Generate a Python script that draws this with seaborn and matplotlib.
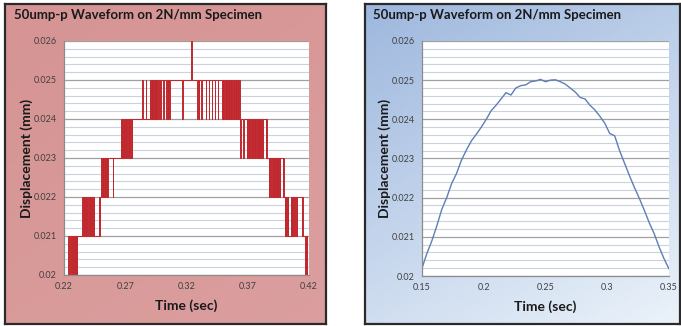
import numpy as np
import pandas as pd
import seaborn as sns
import matplotlib.pyplot as plt
from matplotlib.ticker import MultipleLocator, FixedLocator, FuncFormatter

# ---- left panel: quantised displacement (toggle times between two levels) ----
start_t, start_d, end_t = 0.22, 0.020, 0.42
# (low level, high level, toggle times) in time order
rise_020_021 = [0.2236, 0.2244, 0.2251, 0.2256, 0.2262, 0.2270, 0.2275, 0.2281, 0.2286,
                0.2292, 0.2298, 0.2305, 0.2309]
rise_021_022 = [0.2350, 0.2356, 0.2362, 0.2367, 0.2372, 0.2378, 0.2383, 0.2388, 0.2398,
                0.2404, 0.2410, 0.2415, 0.2420, 0.2425, 0.2431, 0.2436, 0.2442, 0.2448,
                0.2484, 0.2490, 0.2494]
rise_022_023 = [0.2505, 0.2511, 0.2516, 0.2522, 0.2527, 0.2532, 0.2537, 0.2543, 0.2548,
                0.2553, 0.2558, 0.2596, 0.2600]
rise_023_024 = [0.2665, 0.2670, 0.2676, 0.2681, 0.2687, 0.2692, 0.2698, 0.2703, 0.2709,
                0.2715, 0.2720, 0.2727, 0.2733, 0.2740, 0.2747, 0.2754, 0.2758]
rise_024_025 = [0.2840, 0.2846, 0.2866, 0.2872, 0.2900, 0.2905, 0.2910, 0.2915, 0.2920,
                0.2925, 0.2930, 0.2935, 0.2940, 0.2945, 0.2950, 0.2955, 0.2960, 0.2966,
                0.2972, 0.2985, 0.2992, 0.3012, 0.3020, 0.3034, 0.3040, 0.3046, 0.3052,
                0.3058, 0.3063]
dip_025 = [0.3163, 0.3168]
spike_026 = [0.3240, 0.3246]
fall_025_024 = [0.3286, 0.3292, 0.3300, 0.3306, 0.3318, 0.3325, 0.3358, 0.3362, 0.3383,
                0.3387, 0.3407, 0.3411, 0.3432, 0.3436, 0.3456, 0.3460, 0.3490, 0.3496,
                0.3502, 0.3508, 0.3514, 0.3519, 0.3524, 0.3529, 0.3534, 0.3539, 0.3544,
                0.3549, 0.3554, 0.3560, 0.3566, 0.3572, 0.3578, 0.3584, 0.3590, 0.3596,
                0.3602, 0.3608, 0.3614, 0.3618, 0.3622, 0.3626, 0.3634]
fall_024_023 = [0.3640, 0.3645, 0.3662, 0.3667, 0.3690, 0.3696, 0.3702, 0.3708, 0.3714,
                0.3720, 0.3726, 0.3732, 0.3738, 0.3744, 0.3750, 0.3756, 0.3762, 0.3768,
                0.3774, 0.3780, 0.3786, 0.3792, 0.3798, 0.3804, 0.3810, 0.3816, 0.3822,
                0.3828, 0.3848, 0.3852, 0.3856]
fall_023_022 = [0.3870, 0.3875, 0.3882, 0.3888, 0.3900, 0.3905, 0.3910, 0.3915, 0.3920,
                0.3925, 0.3930, 0.3935, 0.3940, 0.3945, 0.3950, 0.3955, 0.3960, 0.3965,
                0.3984, 0.3988, 0.3992]
fall_022_021 = [0.4000, 0.4005, 0.4010, 0.4015, 0.4020, 0.4025, 0.4030, 0.4050, 0.4055,
                0.4060, 0.4065, 0.4070, 0.4075, 0.4080, 0.4085, 0.4090, 0.4100, 0.4105,
                0.4140, 0.4146, 0.4150]
fall_021_020 = [0.4168, 0.4172, 0.4176, 0.4180, 0.4185]

segments = [(0.020, 0.021, rise_020_021), (0.021, 0.022, rise_021_022),
            (0.022, 0.023, rise_022_023), (0.023, 0.024, rise_023_024),
            (0.024, 0.025, rise_024_025), (0.024, 0.025, dip_025),
            (0.025, 0.026, spike_026), (0.024, 0.025, fall_025_024),
            (0.023, 0.024, fall_024_023), (0.022, 0.023, fall_023_022),
            (0.021, 0.022, fall_022_021), (0.020, 0.021, fall_021_020)]

# ---- right panel: smooth displacement ----
time_b = [0.150, 0.154, 0.158, 0.162, 0.166, 0.170, 0.174, 0.178, 0.182, 0.186, 0.190,
          0.194, 0.198, 0.202, 0.206, 0.210, 0.214, 0.218, 0.222, 0.226, 0.230, 0.234,
          0.238, 0.242, 0.246, 0.250, 0.254, 0.258, 0.262, 0.266, 0.270, 0.274, 0.278,
          0.282, 0.286, 0.290, 0.294, 0.298, 0.302, 0.306, 0.310, 0.314, 0.318, 0.322,
          0.326, 0.330, 0.334, 0.338, 0.342, 0.346, 0.350]
disp_b = [0.02020, 0.02058, 0.02090, 0.02128, 0.02170, 0.02200, 0.02236, 0.02262, 0.02296,
          0.02322, 0.02345, 0.02362, 0.02380, 0.02400, 0.02422, 0.02436, 0.02452, 0.02468,
          0.02462, 0.02480, 0.02486, 0.02488, 0.02496, 0.02498, 0.02502, 0.02496, 0.02500,
          0.02501, 0.02496, 0.02490, 0.02480, 0.02470, 0.02456, 0.02452, 0.02436, 0.02424,
          0.02408, 0.02390, 0.02364, 0.02358, 0.02320, 0.02288, 0.02256, 0.02226, 0.02198,
          0.02168, 0.02136, 0.02108, 0.02074, 0.02044, 0.02018]

ticks_a = [0.22, 0.27, 0.32, 0.37, 0.42]
ticks_b = [0.15, 0.2, 0.25, 0.3, 0.35]
y_ticks = [0.020, 0.021, 0.022, 0.023, 0.024, 0.025, 0.026]
title = "50ump-p Waveform on 2N/mm Specimen"

# build step series
t_pts, d_pts = [start_t], [start_d]
cur = start_d
for low, high, times in segments:
    for t in times:
        t_pts.append(t); d_pts.append(cur)
        cur = low if abs(cur - high) < 1e-9 else high
        t_pts.append(t); d_pts.append(cur)
t_pts.append(end_t); d_pts.append(cur)
df_a = pd.DataFrame({"t": t_pts, "d": d_pts})
df_b = pd.DataFrame({"t": time_b, "d": disp_b})

sns.set_style("white")
plt.rcParams["font.family"] = ["Lato", "DejaVu Sans"]

fig = plt.figure(figsize=(6.81, 3.26), dpi=100)
W, H = 681, 326


def fax(x0, y0, x1, y1):
    return fig.add_axes([x0 / W, 1 - y1 / H, (x1 - x0) / W, (y1 - y0) / H])


# panel backgrounds
g = np.linspace(0, 1, 64)
bg_a = fax(5, 4, 326, 324)
ga = g[None, :] * 0.4 + g[:, None] * 0.6
ca0 = np.array([0.84, 0.58, 0.58])
ca1 = np.array([0.86, 0.62, 0.62])
bg_a.imshow(ca0 + (ca1 - ca0) * ga[..., None], aspect="auto", extent=[0, 1, 0, 1])
bg_b = fax(365, 4, 680, 324)
gb = g[None, :] * 0.35 + g[:, None] * 0.65
cb0 = np.array([0.62, 0.72, 0.87])
cb1 = np.array([0.92, 0.95, 0.98])
bg_b.imshow(cb0 + (cb1 - cb0) * gb[..., None], aspect="auto", extent=[0, 1, 0, 1])
for b in (bg_a, bg_b):
    b.set_xticks([]); b.set_yticks([])
    for s in b.spines.values():
        s.set_color("#2a2a2a"); s.set_linewidth(1.6)

ax_a = fax(64, 41, 309, 275)
ax_b = fax(422, 41, 669, 276)

sns.lineplot(data=df_a, x="t", y="d", ax=ax_a, estimator=None, sort=False,
             color="#C0272D", linewidth=0.7)
sns.lineplot(data=df_b, x="t", y="d", ax=ax_b, estimator=None, sort=False,
             color="#5D7FB5", linewidth=1.0)

for ax, xt, lx in ((ax_a, ticks_a, 14), (ax_b, ticks_b, 373)):
    ax.set_facecolor("white")
    ax.set_xlim(xt[0], xt[-1])
    ax.set_ylim(0.020, 0.026)
    ax.xaxis.set_major_locator(FixedLocator(xt))
    ax.xaxis.set_major_formatter(FuncFormatter(lambda v, p: f"{v:g}"))
    ax.yaxis.set_major_locator(FixedLocator(y_ticks))
    ax.yaxis.set_major_formatter(FuncFormatter(lambda v, p: f"{v:g}"))
    ax.yaxis.set_minor_locator(MultipleLocator(0.0002))
    ax.grid(which="minor", axis="y", color="#C9D3E0", linewidth=0.8)
    ax.grid(which="major", axis="y", color="#A0A0A0", linewidth=0.9)
    ax.grid(which="both", axis="x", visible=False)
    ax.set_axisbelow(True)
    for s in ("top", "right"):
        ax.spines[s].set_visible(False)
    for s in ("left", "bottom"):
        ax.spines[s].set_color("#8C8C8C"); ax.spines[s].set_linewidth(0.9)
    ax.tick_params(axis="both", which="major", direction="out", length=3, width=0.8,
                   color="#8C8C8C", labelsize=6.5, labelcolor="#404040", pad=2)
    ax.tick_params(axis="y", which="minor", length=0)
    ax.set_xlabel("Time (sec)", fontsize=10, fontweight="bold", color="#1a1a1a")
    ax.set_ylabel("Displacement (mm)", fontsize=10, fontweight="bold", color="#1a1a1a")
    ax.xaxis.set_label_coords(0.5, -0.105)
    ax.yaxis.set_label_coords(-0.125, 0.5)
    fig.text(lx / W, 1 - 15 / H, title, fontsize=9.5, fontweight="bold",
             color="#1a1a1a", va="center", ha="left")

fig.savefig("out.png", dpi=100)
